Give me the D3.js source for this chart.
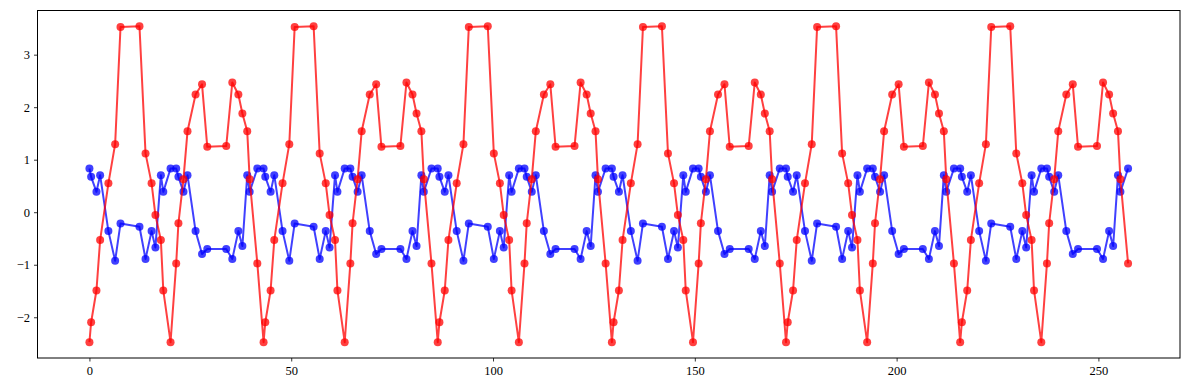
<!DOCTYPE html>
<html>
<head>
<meta charset="utf-8">
<script src="https://cdn.jsdelivr.net/npm/d3@7"></script>
<style>
  html, body { margin: 0; padding: 0; background: #fff; }
  svg { display: block; }
  .tick text { font-family: "Liberation Serif", "DejaVu Serif", serif; font-size: 12.5px; fill: #000; }
</style>
</head>
<body>
<svg id="chart" width="1189" height="390"></svg>
<script>
const xValues = [
  0, 0.42, 1.74, 2.65, 4.7, 6.37, 7.7, 12.4, 13.9, 15.4, 16.35, 17.7, 18.3, 20.1, 21.5, 22.05, 23.3, 24.3, 26.3, 27.9, 29.2, 33.9, 35.4, 36.9, 37.9, 39.1, 39.7, 41.6,
  43.15, 43.57, 44.89, 45.8, 47.85, 49.52, 50.85, 55.55, 57.05, 58.55, 59.5, 60.85, 61.45, 63.25, 64.65, 65.2, 66.45, 67.45, 69.45, 71.05, 72.35, 77.05, 78.55, 80.05, 81.05, 82.25, 82.85, 84.75,
  86.3, 86.72, 88.04, 88.95, 91, 92.67, 94, 98.7, 100.2, 101.7, 102.65, 104, 104.6, 106.4, 107.8, 108.35, 109.6, 110.6, 112.6, 114.2, 115.5, 120.2, 121.7, 123.2, 124.2, 125.4, 126, 127.9,
  129.45, 129.87, 131.19, 132.1, 134.15, 135.82, 137.15, 141.85, 143.35, 144.85, 145.8, 147.15, 147.75, 149.55, 150.95, 151.5, 152.75, 153.75, 155.75, 157.35, 158.65, 163.35, 164.85, 166.35, 167.35, 168.55, 169.15, 171.05,
  172.6, 173.02, 174.34, 175.25, 177.3, 178.97, 180.3, 185, 186.5, 188, 188.95, 190.3, 190.9, 192.7, 194.1, 194.65, 195.9, 196.9, 198.9, 200.5, 201.8, 206.5, 208, 209.5, 210.5, 211.7, 212.3, 214.2,
  215.75, 216.17, 217.49, 218.4, 220.45, 222.12, 223.45, 228.15, 229.65, 231.15, 232.1, 233.45, 234.05, 235.85, 237.25, 237.8, 239.05, 240.05, 242.05, 243.65, 244.95, 249.65, 251.15, 252.65, 253.65, 254.85, 255.45, 257.35
];

const redValues = [
  -2.475, -2.095, -1.49, -0.53, 0.55, 1.295, 3.525, 3.54, 1.12, 0.55, -0.055, -0.53, -1.49, -2.475, -0.975, -0.21, 0.63, 1.54, 2.24, 2.435, 1.245, 1.26, 2.47, 2.24, 1.88, 1.54, 0.63, -0.975,
  -2.475, -2.095, -1.49, -0.53, 0.55, 1.295, 3.525, 3.54, 1.12, 0.55, -0.055, -0.53, -1.49, -2.475, -0.975, -0.21, 0.63, 1.54, 2.24, 2.435, 1.245, 1.26, 2.47, 2.24, 1.88, 1.54, 0.63, -0.975,
  -2.475, -2.095, -1.49, -0.53, 0.55, 1.295, 3.525, 3.54, 1.12, 0.55, -0.055, -0.53, -1.49, -2.475, -0.975, -0.21, 0.63, 1.54, 2.24, 2.435, 1.245, 1.26, 2.47, 2.24, 1.88, 1.54, 0.63, -0.975,
  -2.475, -2.095, -1.49, -0.53, 0.55, 1.295, 3.525, 3.54, 1.12, 0.55, -0.055, -0.53, -1.49, -2.475, -0.975, -0.21, 0.63, 1.54, 2.24, 2.435, 1.245, 1.26, 2.47, 2.24, 1.88, 1.54, 0.63, -0.975,
  -2.475, -2.095, -1.49, -0.53, 0.55, 1.295, 3.525, 3.54, 1.12, 0.55, -0.055, -0.53, -1.49, -2.475, -0.975, -0.21, 0.63, 1.54, 2.24, 2.435, 1.245, 1.26, 2.47, 2.24, 1.88, 1.54, 0.63, -0.975,
  -2.475, -2.095, -1.49, -0.53, 0.55, 1.295, 3.525, 3.54, 1.12, 0.55, -0.055, -0.53, -1.49, -2.475, -0.975, -0.21, 0.63, 1.54, 2.24, 2.435, 1.245, 1.26, 2.47, 2.24, 1.88, 1.54, 0.63, -0.975
];

const blueValues = [
  0.833, 0.673, 0.388, 0.705, -0.36, -0.924, -0.213, -0.277, -0.89, -0.36, -0.67, 0.705, 0.388, 0.833, 0.833, 0.673, 0.388, 0.705, -0.36, -0.797, -0.70, -0.70, -0.89, -0.36, -0.645, 0.705, 0.388, 0.833,
  0.833, 0.673, 0.388, 0.705, -0.36, -0.924, -0.213, -0.277, -0.89, -0.36, -0.67, 0.705, 0.388, 0.833, 0.833, 0.673, 0.388, 0.705, -0.36, -0.797, -0.70, -0.70, -0.89, -0.36, -0.645, 0.705, 0.388, 0.833,
  0.833, 0.673, 0.388, 0.705, -0.36, -0.924, -0.213, -0.277, -0.89, -0.36, -0.67, 0.705, 0.388, 0.833, 0.833, 0.673, 0.388, 0.705, -0.36, -0.797, -0.70, -0.70, -0.89, -0.36, -0.645, 0.705, 0.388, 0.833,
  0.833, 0.673, 0.388, 0.705, -0.36, -0.924, -0.213, -0.277, -0.89, -0.36, -0.67, 0.705, 0.388, 0.833, 0.833, 0.673, 0.388, 0.705, -0.36, -0.797, -0.70, -0.70, -0.89, -0.36, -0.645, 0.705, 0.388, 0.833,
  0.833, 0.673, 0.388, 0.705, -0.36, -0.924, -0.213, -0.277, -0.89, -0.36, -0.67, 0.705, 0.388, 0.833, 0.833, 0.673, 0.388, 0.705, -0.36, -0.797, -0.70, -0.70, -0.89, -0.36, -0.645, 0.705, 0.388, 0.833,
  0.833, 0.673, 0.388, 0.705, -0.36, -0.924, -0.213, -0.277, -0.89, -0.36, -0.67, 0.705, 0.388, 0.833, 0.833, 0.673, 0.388, 0.705, -0.36, -0.797, -0.70, -0.70, -0.89, -0.36, -0.645, 0.705, 0.388, 0.833
];

const xTicks = [0, 50, 100, 150, 200, 250];
const yTicks = [-2, -1, 0, 1, 2, 3];

const margin = { left: 37.5, right: 9, top: 10.5, bottom: 32 };
const W = 1189, H = 390;
const iw = W - margin.left - margin.right;
const ih = H - margin.top - margin.bottom;

const svg = d3.select("#chart");
const g = svg.append("g").attr("transform", `translate(${margin.left},${margin.top})`);

const xExt = d3.extent(xValues);
const xPad = (xExt[1] - xExt[0]) * 0.05;
const allY = redValues.concat(blueValues);
const yExt = d3.extent(allY);
const yPad = (yExt[1] - yExt[0]) * 0.05;

const x = d3.scaleLinear().domain([xExt[0] - xPad, xExt[1] + xPad]).range([0, iw]);
const y = d3.scaleLinear().domain([yExt[0] - yPad, yExt[1] + yPad]).range([ih, 0]);

const fmt = d => (d < 0 ? "\u2212" + Math.abs(d) : String(d));

const xAxis = g.append("g").attr("transform", `translate(0,${ih})`)
  .call(d3.axisBottom(x).tickValues(xTicks).tickSize(3.5).tickPadding(5).tickFormat(fmt));
const yAxis = g.append("g")
  .call(d3.axisLeft(y).tickValues(yTicks).tickSize(3.5).tickPadding(4).tickFormat(fmt));
[xAxis, yAxis].forEach(a => {
  a.select(".domain").remove();
  a.selectAll(".tick line").attr("stroke", "#000").attr("stroke-width", 0.8);
});

const series = [
  { name: "blue", values: blueValues, color: "#0000ff" },
  { name: "red", values: redValues, color: "#ff0000" }
];

const line = d3.line().x(d => x(d[0])).y(d => y(d[1]));

series.forEach(s => {
  const pts = xValues.map((xv, i) => [xv, s.values[i]]);
  const sg = g.append("g").attr("class", "series-" + s.name);
  sg.append("path")
    .datum(pts)
    .attr("d", line)
    .attr("fill", "none")
    .attr("stroke", s.color)
    .attr("stroke-opacity", 0.75)
    .attr("stroke-width", 2)
    .attr("stroke-linejoin", "round");
  sg.selectAll("circle")
    .data(pts)
    .join("circle")
    .attr("cx", d => x(d[0]))
    .attr("cy", d => y(d[1]))
    .attr("r", 4)
    .attr("fill", s.color)
    .attr("fill-opacity", 0.75);
});

g.append("rect")
  .attr("x", 0).attr("y", 0)
  .attr("width", iw).attr("height", ih)
  .attr("fill", "none")
  .attr("stroke", "#000")
  .attr("stroke-width", 1);
</script>
</body>
</html>
